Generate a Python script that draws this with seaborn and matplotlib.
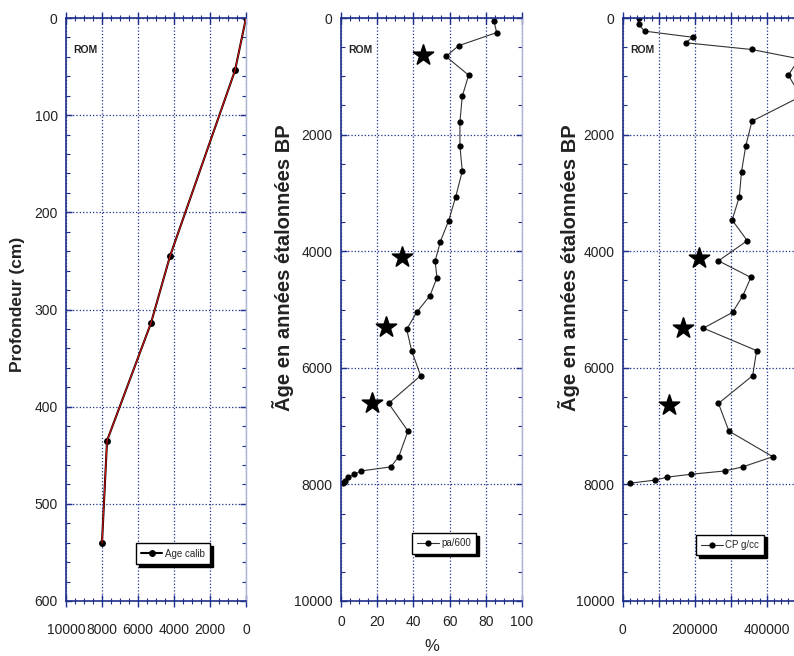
import numpy as np
import pandas as pd
import seaborn as sns
import matplotlib.pyplot as plt
from matplotlib.ticker import MultipleLocator, FuncFormatter

# Panel 1: age-depth model
depth_cm = [0, 54, 245, 314, 435, 540]
age_calib = [0, 610, 4220, 5280, 7720, 8000]

# Panel 2: pa/600 (%)
pa_age = [50, 250, 475, 660, 980, 1345, 1780, 2195, 2625, 3065, 3475, 3835, 4170,
          4455, 4760, 5050, 5340, 5705, 6135, 6610, 7085, 7525, 7700, 7770, 7830,
          7875, 7935, 7980]
pa_pct = [84.5, 86, 65, 58, 70.5, 67, 65.7, 65.7, 67, 63.4, 59.5, 54.9, 52, 53,
          49.2, 41.8, 36.3, 39, 44, 26.3, 37, 31.9, 27.5, 11, 7.4, 4, 2.2, 1]
pa_star_pct = [45.5, 33.7, 24.9, 17]
pa_star_age = [635, 4105, 5300, 6610]

# Panel 3: CP g/cc
cp_age = [0, 110, 225, 330, 425, 540, 700, 980, 1345, 1770, 2190, 2635, 3065,
          3465, 3820, 4165, 4450, 4760, 5050, 5320, 5705, 6135, 6610, 7085, 7525,
          7700, 7770, 7825, 7875, 7925, 7980]
cp_val = [44000, 44000, 61000, 194000, 175000, 358000, 490000, 460000, 495000,
          359000, 342000, 330000, 324000, 304000, 346000, 266000, 356000, 334000,
          305000, 224000, 372000, 361000, 266000, 295000, 417000, 333000, 283000,
          191000, 124000, 91000, 20000]
cp_star_val = [213000, 168000, 129000]
cp_star_age = [4125, 5320, 6640]

sns.set_style("white")
plt.rcParams['font.family'] = ['Liberation Sans', 'DejaVu Sans']

navy = '#1f2f8c'
light = '#aab3d6'

fig = plt.figure(figsize=(7.94, 6.56), dpi=100)
W, H = 794, 656


def make_ax(left_px, width_px):
    return fig.add_axes([left_px / W, 55 / H, width_px / W, 583 / H])


ax1 = make_ax(66, 180)
ax2 = make_ax(341, 181)
ax3 = make_ax(622.7, 180)


def style(ax, xmaj, xmin, ymaj, ymin, xpad):
    for side in ['left', 'top', 'bottom']:
        ax.spines[side].set_color(navy)
        ax.spines[side].set_linewidth(1.2)
    ax.spines['right'].set_color(light)
    ax.spines['right'].set_linewidth(1.0)
    ax.xaxis.set_major_locator(MultipleLocator(xmaj))
    ax.xaxis.set_minor_locator(MultipleLocator(xmin))
    ax.yaxis.set_major_locator(MultipleLocator(ymaj))
    ax.yaxis.set_minor_locator(MultipleLocator(ymin))
    ax.tick_params(axis='x', which='both', top=True, bottom=True, direction='inout',
                   color=navy, labelsize=10, pad=xpad, labelcolor='#222222')
    ax.tick_params(axis='x', which='major', length=8, width=1)
    ax.tick_params(axis='x', which='minor', length=4, width=0.8)
    ax.tick_params(axis='y', which='both', left=True, right=True, direction='in',
                   color=navy, labelsize=10, pad=6, labelcolor='#222222')
    ax.tick_params(axis='y', which='major', length=4, width=1)
    ax.tick_params(axis='y', which='minor', length=3, width=0.8)
    ax.grid(True, which='major', linestyle=':', color=navy, linewidth=0.9)
    ax.text(0.04, 0.945, 'ROM', transform=ax.transAxes, fontsize=7.5,
            fontweight='bold', va='center', color='#222222')


def add_legend(ax, cx, cy):
    leg = ax.legend(loc='center', bbox_to_anchor=(cx, cy), frameon=True,
                    fancybox=False, shadow={'color': 'black', 'alpha': 1},
                    edgecolor='black', framealpha=1, fontsize=7,
                    handlelength=2.2, borderpad=0.55, handletextpad=0.25)
    leg.get_frame().set_linewidth(1.0)


label_font = dict(fontweight='bold', color='#222222')

# ---- Panel 1
df1 = pd.DataFrame({'age': age_calib, 'depth': depth_cm})
sns.lineplot(data=df1, x='age', y='depth', sort=False, estimator=None, ax=ax1,
             color='black', marker='o', markersize=5, markeredgewidth=0,
             linewidth=1.5, label='Age calib')
sns.lineplot(data=df1, x='age', y='depth', sort=False, estimator=None, ax=ax1,
             color='#d01010', linewidth=0.8, legend=False)
ax1.set_xlim(10000, 0)
ax1.set_ylim(600, 0)
style(ax1, 2000, 500, 100, 20, 12)
ax1.set_xlabel('')
ax1.set_ylabel('Profondeur (cm)', fontsize=12.5, **label_font)
ax1.yaxis.set_label_coords(-0.228, 0.508)
add_legend(ax1, 0.594, 0.081)

# ---- Panel 2
df2 = pd.DataFrame({'pct': pa_pct, 'age': pa_age})
sns.lineplot(data=df2, x='pct', y='age', sort=False, estimator=None, ax=ax2,
             color='#333333', marker='o', markersize=4.5, markeredgewidth=0,
             markerfacecolor='black', linewidth=0.8, label='pa/600')
sns.scatterplot(x=pa_star_pct, y=pa_star_age, ax=ax2, marker='*', s=230,
                color='black', edgecolor='black', legend=False, zorder=5)
ax2.set_xlim(0, 100)
ax2.set_ylim(10000, 0)
style(ax2, 20, 5, 2000, 500, 6)
ax2.set_xlabel('%', fontsize=12, color='#222222')
ax2.xaxis.set_label_coords(0.5, -0.065)
ax2.set_ylabel('Ãge en années étalonnées BP', fontsize=14.5, **label_font)
ax2.yaxis.set_label_coords(-0.257, 0.571)
add_legend(ax2, 0.569, 0.099)

# ---- Panel 3
df3 = pd.DataFrame({'cp': cp_val, 'age': cp_age})
sns.lineplot(data=df3, x='cp', y='age', sort=False, estimator=None, ax=ax3,
             color='#333333', marker='o', markersize=4.5, markeredgewidth=0,
             markerfacecolor='black', linewidth=0.8, label='CP g/cc')
sns.scatterplot(x=cp_star_val, y=cp_star_age, ax=ax3, marker='*', s=230,
                color='black', edgecolor='black', legend=False, zorder=5)
ax3.set_xlim(0, 500000)
ax3.set_ylim(10000, 0)
style(ax3, 100000, 20000, 2000, 500, 12)
ax3.xaxis.set_major_formatter(FuncFormatter(
    lambda v, p: f"{int(round(v))}" if int(round(v)) % 200000 == 0 else ""))
ax3.set_xlabel('')
ax3.set_ylabel('Ãge en années étalonnées BP', fontsize=14.5, **label_font)
ax3.yaxis.set_label_coords(-0.235, 0.571)
add_legend(ax3, 0.596, 0.096)

fig.savefig('out.png', dpi=100)
